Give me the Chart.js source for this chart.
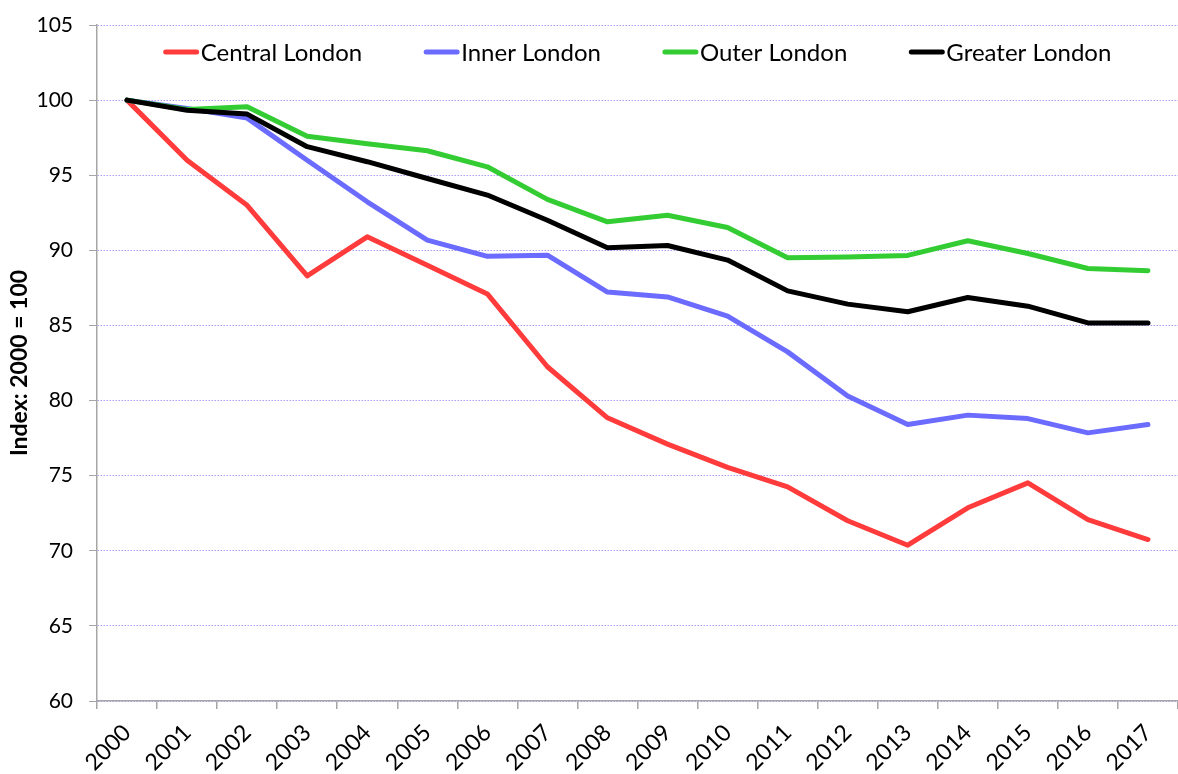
<!DOCTYPE html>
<html>
<head>
<meta charset="utf-8">
<script src="https://cdn.jsdelivr.net/npm/chart.js@4"></script>
<style>
  html, body { margin: 0; padding: 0; background: #fff; }
  #wrap { width: 1178px; height: 774px; }
</style>
</head>
<body>
<div id="wrap"><canvas id="londonChart" width="1178" height="774"></canvas></div>
<script>
// data
const years = ['2000', '2001', '2002', '2003', '2004', '2005', '2006', '2007', '2008',
    '2009', '2010', '2011', '2012', '2013', '2014', '2015', '2016', '2017'];
const centralLondon = [100, 96.0, 93.0, 88.3, 90.9, 89.0, 87.1, 82.25, 78.85,
    77.1, 75.55, 74.25, 72.0, 70.37, 72.86, 74.52, 72.08, 70.75];
const innerLondon = [100, 99.45, 98.8, 96.0, 93.23, 90.68, 89.6, 89.68, 87.22,
    86.9, 85.62, 83.24, 80.31, 78.4, 79.03, 78.8, 77.85, 78.4];
const outerLondon = [100, 99.38, 99.56, 97.6, 97.1, 96.63, 95.56, 93.39, 91.9,
    92.34, 91.52, 89.5, 89.55, 89.66, 90.64, 89.79, 88.79, 88.64];
const greaterLondon = [100, 99.33, 99.07, 96.9, 95.9, 94.78, 93.68, 92.0, 90.17,
    90.32, 89.35, 87.3, 86.42, 85.91, 86.86, 86.28, 85.17, 85.17];
const seriesNames = ['Central London', 'Inner London', 'Outer London', 'Greater London'];
const yMin = 60;
const yMax = 105;
const yStep = 5;
const yTitle = 'Index: 2000 = 100';

const fontFamily = 'Lato, "Open Sans", sans-serif';
const ctx = document.getElementById('londonChart').getContext('2d');

// legend drawn inside the plot, one row near the top
const lineLegend = {
    id: 'lineLegend',
    afterDraw(chart) {
        const c = chart.ctx;
        const area = chart.chartArea;
        c.save();
        c.font = '24px ' + fontFamily;
        c.textBaseline = 'middle';
        const items = chart.data.datasets.map(ds => ({
            label: ds.label,
            color: ds.borderColor,
            w: 37 + c.measureText(ds.label).width
        }));
        const gap = 62;
        const total = items.reduce((s, it) => s + it.w, 0) + gap * (items.length - 1);
        let x = (area.left + area.right) / 2 - total / 2;
        const y = area.top + 27;
        items.forEach(it => {
            c.strokeStyle = it.color;
            c.lineWidth = 5;
            c.lineCap = 'round';
            c.beginPath();
            c.moveTo(x + 2, y);
            c.lineTo(x + 33, y);
            c.stroke();
            c.fillStyle = '#000';
            c.fillText(it.label, x + 37, y + 1);
            x += it.w + gap;
        });
        c.restore();
    }
};

function makeSeries(label, data, color, order) {
    return {
        label: label,
        data: data,
        borderColor: color,
        backgroundColor: color,
        borderWidth: 5,
        pointRadius: 0,
        tension: 0,
        borderCapStyle: 'round',
        borderJoinStyle: 'round',
        order: order
    };
}

const londonChart = new Chart(ctx, {
    type: 'line',
    data: {
        labels: years,
        datasets: [
            makeSeries(seriesNames[0], centralLondon, '#ff3b3b', 4),
            makeSeries(seriesNames[1], innerLondon, '#6b6bff', 3),
            makeSeries(seriesNames[2], outerLondon, '#33cc33', 2),
            makeSeries(seriesNames[3], greaterLondon, '#000000', 1)
        ]
    },
    options: {
        responsive: false,
        animation: false,
        layout: { padding: { top: 25, right: 0, bottom: 0, left: 6 } },
        plugins: {
            legend: { display: false },
            tooltip: { enabled: false }
        },
        scales: {
            x: {
                offset: true,
                grid: {
                    display: true,
                    drawOnChartArea: false,
                    offset: true,
                    tickLength: 8,
                    color: '#a6a6a6',
                    lineWidth: 1.5
                },
                border: { color: '#a6a6a6', width: 1.5 },
                ticks: {
                    color: '#000',
                    font: { family: fontFamily, size: 23 },
                    minRotation: 45,
                    maxRotation: 45,
                    padding: 10,
                    autoSkip: false
                },
                afterFit(scale) {
                    scale.height = 73;
                    scale.paddingLeft = 0;
                    scale.paddingRight = 0;
                }
            },
            y: {
                min: yMin,
                max: yMax,
                ticks: {
                    stepSize: yStep,
                    color: '#000',
                    font: { family: fontFamily, size: 21 },
                    padding: 16
                },
                grid: {
                    color: '#ab9cff',
                    lineWidth: 1,
                    tickColor: '#a6a6a6',
                    tickLength: 8
                },
                border: { color: '#a6a6a6', width: 1.5, dash: [1.5, 1.5] },
                title: {
                    display: true,
                    text: yTitle,
                    color: '#000',
                    font: { family: fontFamily, size: 23, weight: 'bold' },
                    padding: 0
                },
                afterFit(scale) {
                    scale.width = 91;
                    scale.paddingTop = 0;
                    scale.paddingBottom = 0;
                }
            }
        }
    },
    plugins: [lineLegend]
});
</script>
</body>
</html>
